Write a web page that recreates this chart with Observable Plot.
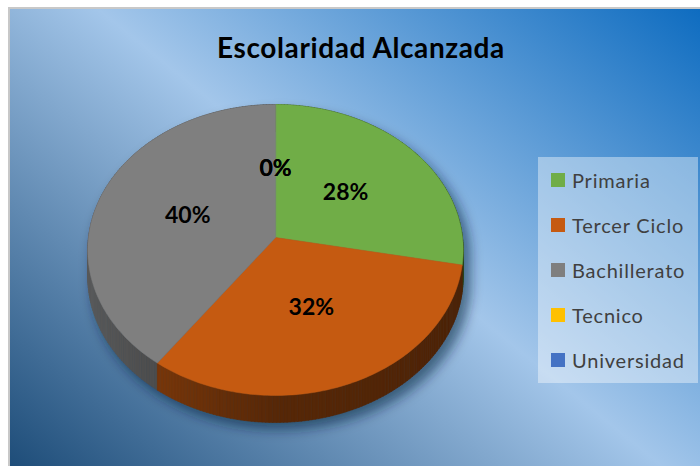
<!DOCTYPE html>
<html><head><meta charset="utf-8">
<script src="https://cdn.jsdelivr.net/npm/d3@7"></script>
<script src="https://cdn.jsdelivr.net/npm/@observablehq/plot@0.6"></script>
<style>
html,body{margin:0;padding:0;background:#fff;width:700px;height:466px;overflow:hidden;}
#frame{position:absolute;left:8px;top:7px;width:692px;height:459px;background:#c8c8c8;}
#chart{position:absolute;left:10px;top:9px;width:690px;height:457px;background:linear-gradient(39deg,#1e4d79 0%,#a3c6ea 52%,#0e6cc0 100%);overflow:hidden;font-family:Lato,sans-serif;}
#title{position:absolute;left:0;width:702px;top:24px;line-height:1;text-align:center;font-weight:bold;font-size:28px;letter-spacing:0.6px;color:#000;}
#legend{position:absolute;left:528px;top:148px;width:160px;height:226px;background:rgba(255,255,255,0.4);}
.item{position:absolute;left:13px;height:20px;line-height:1;display:flex;align-items:center;font-size:20px;letter-spacing:0.8px;color:#404040;white-space:nowrap;}
.sw{width:14px;height:14px;margin-right:7px;flex:none;}
#plot{position:absolute;left:0;top:0;}
</style></head>
<body>
<div id="frame"></div>
<div id="chart">
  <div id="plot"></div>
  <div id="title">Escolaridad Alcanzada</div>
  <div id="legend"></div>
</div>
<script>
const categories = ["Primaria", "Tercer Ciclo", "Bachillerato", "Tecnico", "Universidad"];
const shares = [28, 32, 40, 0, 0];
const palette = ["#70ad47", "#c55a11", "#7f7f7f", "#ffc000", "#4472c4"];

const W = 690, H = 457;
const CX = 265, CY = 228;      // pie centre in svg px
const RX = 187, RY = 144.4;    // px per unit
const K = 0.086;               // perspective
const DEPTH = 27 / RY;

function proj(deg, f = 1) {
  const t = deg * Math.PI / 180;
  const u = f * Math.sin(t), v = f * Math.cos(t);
  const d = 1 + K * v;
  return [u / d, v / d];
}
function shade(hex, deg) {
  const s = Math.sin(deg * Math.PI / 180);
  const f = s > 0 ? 0.44 - 0.05 * s : 0.44 - 0.28 * s;
  const c = d3.rgb(hex);
  return d3.rgb(c.r * f, c.g * f, c.b * f).formatHex();
}

const total = d3.sum(shares);
let acc = 0;
const slices = categories.map((c, i) => {
  const a0 = acc / total * 360; acc += shares[i]; const a1 = acc / total * 360;
  return {c, i, a0, a1, share: shares[i], color: palette[i]};
});

// top faces
const tops = [];
slices.forEach(s => {
  if (s.share <= 0) return;
  tops.push({id: "t" + s.i, X: 0, Y: 0, color: s.color});
  const n = Math.max(2, Math.ceil(s.a1 - s.a0));
  for (let j = 0; j <= n; j++) {
    const [X, Y] = proj(s.a0 + (s.a1 - s.a0) * j / n);
    tops.push({id: "t" + s.i, X, Y, color: s.color});
  }
});

// side segments
const segs = [];
slices.forEach(s => {
  if (s.share <= 0) return;
  for (let a = s.a0; a < s.a1 - 1e-9; a += 1) {
    const b = Math.min(a + 1, s.a1), m = (a + b) / 2;
    const p = proj(a), q = proj(b);
    const col = shade(s.color, m);
    const id = "s" + s.i + "_" + a.toFixed(1);
    segs.push({key: Math.cos(m * Math.PI / 180), pts: [
      {id, X: p[0], Y: p[1], color: col},
      {id, X: q[0], Y: q[1], color: col},
      {id, X: q[0], Y: q[1] - DEPTH, color: col},
      {id, X: p[0], Y: p[1] - DEPTH, color: col}
    ]});
  }
});
segs.sort((a, b) => b.key - a.key);
const sides = segs.flatMap(s => s.pts);

// shadow silhouette
const shadow = [];
for (let a = 0; a <= 360; a += 2) {
  const [X, Y] = proj(a);
  const near = a > 95 && a < 265;
  shadow.push({X: X * 1.01 + 0.03, Y: (near ? Y - DEPTH : Y) - 0.05});
}

// labels
const labels = slices.map(s => {
  const [X, Y] = proj((s.a0 + s.a1) / 2, 0.5);
  return {X, Y, label: Math.round(s.share / total * 100) + "%"};
});

const plot = Plot.plot({
  width: W, height: H, margin: 0,
  x: {domain: [-CX / RX, (W - CX) / RX], range: [0, W], axis: null},
  y: {domain: [-(H - CY) / RY, CY / RY], range: [H, 0], axis: null},
  color: {type: "identity"},
  style: {background: "transparent", overflow: "visible"},
  marks: [
    Plot.line(shadow, {x: "X", y: "Y", curve: "linear-closed", fill: "#0a2238", fillOpacity: 0.55, stroke: "none"}),
    Plot.line(sides, {x: "X", y: "Y", z: "id", curve: "linear-closed", fill: "color", stroke: "color", strokeWidth: 0.6}),
    Plot.line(tops, {x: "X", y: "Y", z: "id", curve: "linear-closed", fill: "color", stroke: "color", strokeWidth: 0.5}),
    Plot.text(labels, {x: "X", y: "Y", text: "label", fontSize: 23, fontWeight: "bold", fontFamily: "Lato", fill: "#000"})
  ]
});
document.getElementById("plot").appendChild(plot);
const svg = d3.select(plot);
const f = svg.insert("defs", ":first-child").append("filter").attr("id", "shblur")
  .attr("x", "-30%").attr("y", "-30%").attr("width", "160%").attr("height", "160%");
f.append("feGaussianBlur").attr("stdDeviation", 6);
svg.select('g[aria-label="line"]').attr("filter", "url(#shblur)");

// legend
const lg = document.getElementById("legend");
const centers = [23, 68, 113, 158, 203];
categories.forEach((c, i) => {
  const it = document.createElement("div");
  it.className = "item";
  it.style.top = (centers[i] - 10) + "px";
  it.innerHTML = `<span class="sw" style="background:${palette[i]}"></span><span>${c}</span>`;
  lg.appendChild(it);
});
</script>
</body></html>
